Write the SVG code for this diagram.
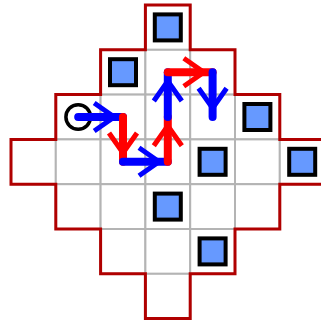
<svg xmlns="http://www.w3.org/2000/svg" width="321" height="322" viewBox="0 0 321 322">
<style>
.cell{fill:#ffffff;stroke:#b4b4b4;stroke-width:2}
.outline{fill:none;stroke:#b00000;stroke-width:3;stroke-linejoin:miter}
.box{fill:#6699ff;stroke:#000000;stroke-width:4}
.start{fill:none;stroke:#000000;stroke-width:3.5}
.seg{fill:none;stroke-width:8;stroke-linecap:round}
.chev{fill:none;stroke-width:5;stroke-linejoin:miter}
.b{stroke:#0000ff}
.r{stroke:#ff0000}
</style>
<rect width="321" height="322" fill="#ffffff"/>
<g id="grid">
<rect class="cell" x="145.4" y="5" width="44.8" height="44.8"/>
<rect class="cell" x="100.6" y="49.8" width="44.8" height="44.8"/>
<rect class="cell" x="145.4" y="49.8" width="44.8" height="44.8"/>
<rect class="cell" x="190.2" y="49.8" width="44.8" height="44.8"/>
<rect class="cell" x="55.8" y="94.6" width="44.8" height="44.8"/>
<rect class="cell" x="100.6" y="94.6" width="44.8" height="44.8"/>
<rect class="cell" x="145.4" y="94.6" width="44.8" height="44.8"/>
<rect class="cell" x="190.2" y="94.6" width="44.8" height="44.8"/>
<rect class="cell" x="235" y="94.6" width="44.8" height="44.8"/>
<rect class="cell" x="11" y="139.4" width="44.8" height="44.8"/>
<rect class="cell" x="55.8" y="139.4" width="44.8" height="44.8"/>
<rect class="cell" x="100.6" y="139.4" width="44.8" height="44.8"/>
<rect class="cell" x="145.4" y="139.4" width="44.8" height="44.8"/>
<rect class="cell" x="190.2" y="139.4" width="44.8" height="44.8"/>
<rect class="cell" x="235" y="139.4" width="44.8" height="44.8"/>
<rect class="cell" x="279.8" y="139.4" width="44.8" height="44.8"/>
<rect class="cell" x="55.8" y="184.2" width="44.8" height="44.8"/>
<rect class="cell" x="100.6" y="184.2" width="44.8" height="44.8"/>
<rect class="cell" x="145.4" y="184.2" width="44.8" height="44.8"/>
<rect class="cell" x="190.2" y="184.2" width="44.8" height="44.8"/>
<rect class="cell" x="235" y="184.2" width="44.8" height="44.8"/>
<rect class="cell" x="100.6" y="229" width="44.8" height="44.8"/>
<rect class="cell" x="145.4" y="229" width="44.8" height="44.8"/>
<rect class="cell" x="190.2" y="229" width="44.8" height="44.8"/>
<rect class="cell" x="145.4" y="273.8" width="44.8" height="44.8"/>
</g>
<path id="border" class="outline" d="M145.4,5 H190.2 V49.8 H235 V94.6 H279.8 V139.4 H324.6 V184.2 H279.8 V229 H235 V273.8 H190.2 V318.6 H145.4 V273.8 H100.6 V229 H55.8 V184.2 H11 V139.4 H55.8 V94.6 H100.6 V49.8 H145.4 Z"/>
<g id="boxes">
<rect id="box1" class="box" x="154.8" y="14.4" width="26" height="26"/>
<rect id="box2" class="box" x="110" y="59.2" width="26" height="26"/>
<rect id="box3" class="box" x="244.4" y="104" width="26" height="26"/>
<rect id="box4" class="box" x="199.6" y="148.8" width="26" height="26"/>
<rect id="box5" class="box" x="289.2" y="148.8" width="26" height="26"/>
<rect id="box6" class="box" x="154.8" y="193.6" width="26" height="26"/>
<rect id="box7" class="box" x="199.6" y="238.4" width="26" height="26"/>
</g>
<circle id="start" class="start" cx="78.2" cy="117" r="12.3"/>
<g id="connectors">
<g id="s1"><path class="seg b" d="M78.2,117 H123"/><path class="chev b" d="M94.2,103 L114.2,117 L94.2,131"/></g>
<g id="s2"><path class="seg r" d="M123,117 V161.8"/><path class="chev r" d="M109,133 L123,153 L137,133"/></g>
<g id="s3"><path class="seg b" d="M123,161.8 H167.8"/><path class="chev b" d="M139,147.8 L159,161.8 L139,175.8"/></g>
<g id="s4"><path class="seg r" d="M167.8,161.8 V117"/><path class="chev r" d="M153.8,145.8 L167.8,125.8 L181.8,145.8"/></g>
<g id="s5"><path class="seg b" d="M167.8,117 V72.2"/><path class="chev b" d="M153.8,101 L167.8,81 L181.8,101"/></g>
<g id="s6"><path class="seg r" d="M167.8,72.2 H212.6"/><path class="chev r" d="M183.8,58.2 L203.8,72.2 L183.8,86.2"/></g>
<g id="s7"><path class="seg b" d="M212.6,72.2 V117"/><path class="chev b" d="M198.6,88.2 L212.6,108.2 L226.6,88.2"/></g>
</g>
</svg>
